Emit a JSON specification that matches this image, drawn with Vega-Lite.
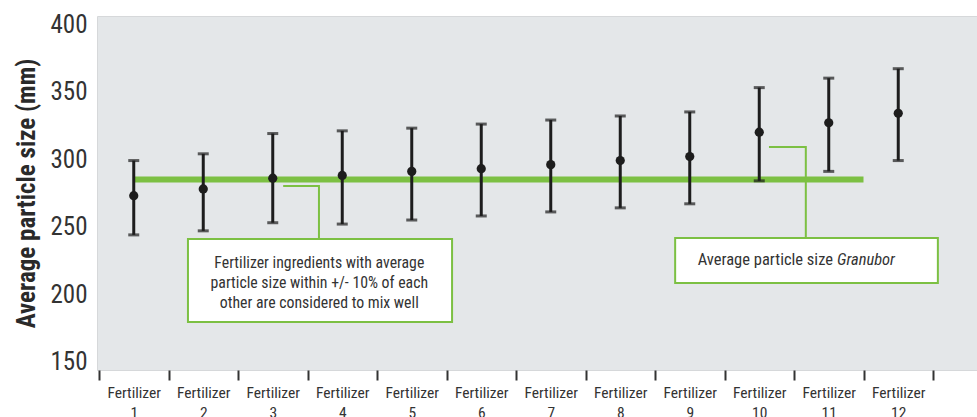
{
  "$schema": "https://vega.github.io/schema/vega-lite/v6.json",
  "width": 880,
  "height": 354,
  "autosize": {"type": "none"},
  "padding": {"left": 97, "top": 16, "right": 0, "bottom": 47},
  "background": "white",
  "config": {
    "view": {"fill": "#e4e7e9", "stroke": "#d6d8da", "strokeWidth": 1},
    "font": "Roboto Condensed, DejaVu Sans Condensed, Roboto, sans-serif"
  },
  "layer": [
    {
      "layer": [
        {
          "data": {"values": [{"from": 0.5, "to": 11, "size": 285}]},
          "mark": {"type": "rule", "color": "#7cc043", "strokeWidth": 6},
          "encoding": {
            "x": {"field": "from", "type": "quantitative", "scale": {"domain": [0, 12], "range": [2, 836]}, "axis": null},
            "x2": {"field": "to"},
            "y": {"field": "size", "type": "quantitative", "scale": {"domain": [144, 406], "nice": false, "zero": false}}
          }
        },
        {
          "data": {"values": [
            {"id": 1, "step": 1, "x": 2.65, "y": 280.2},
            {"id": 1, "step": 2, "x": 3.165, "y": 280.2},
            {"id": 1, "step": 3, "x": 3.165, "y": 241},
            {"id": 2, "step": 1, "x": 9.64, "y": 309},
            {"id": 2, "step": 2, "x": 10.17, "y": 309},
            {"id": 2, "step": 3, "x": 10.17, "y": 241.7}
          ]},
          "mark": {"type": "line", "color": "#7cc043", "strokeWidth": 2},
          "encoding": {
            "x": {"field": "x", "type": "quantitative", "scale": {"domain": [0, 12], "range": [2, 836]}, "axis": null},
            "y": {"field": "y", "type": "quantitative", "scale": {"domain": [144, 406], "nice": false, "zero": false}},
            "detail": {"field": "id"},
            "order": {"field": "step"}
          }
        },
        {
          "data": {"values": [
            {"x1": 1.28, "x2": 5.08, "y1": 179.6, "y2": 241},
            {"x1": 8.29, "x2": 12.07, "y1": 208.4, "y2": 241.7}
          ]},
          "mark": {"type": "rect", "fill": "white", "stroke": "#7cc043", "strokeWidth": 2},
          "encoding": {
            "x": {"field": "x1", "type": "quantitative", "scale": {"domain": [0, 12], "range": [2, 836]}, "axis": null},
            "x2": {"field": "x2"},
            "y": {"field": "y1", "type": "quantitative", "scale": {"domain": [144, 406], "nice": false, "zero": false}},
            "y2": {"field": "y2"}
          }
        },
        {
          "data": {"values": [
            {"x": 3.17, "y": 223.4, "text": ["Fertilizer ingredients with average", "particle size within +/- 10% of each", "other are considered to mix well"]}
          ]},
          "mark": {"type": "text", "align": "center", "baseline": "middle", "fontSize": 15.8, "lineHeight": 20.3, "color": "#333333"},
          "encoding": {
            "x": {"field": "x", "type": "quantitative", "scale": {"domain": [0, 12], "range": [2, 836]}, "axis": null},
            "y": {"field": "y", "type": "quantitative", "scale": {"domain": [144, 406], "nice": false, "zero": false}},
            "text": {"field": "text"}
          }
        },
        {
          "data": {"values": [{"x": 10.59, "y": 225.4, "text": "Average particle size"}]},
          "mark": {"type": "text", "align": "right", "baseline": "middle", "dx": -2, "fontSize": 16.5, "color": "#333333"},
          "encoding": {
            "x": {"field": "x", "type": "quantitative", "scale": {"domain": [0, 12], "range": [2, 836]}, "axis": null},
            "y": {"field": "y", "type": "quantitative", "scale": {"domain": [144, 406], "nice": false, "zero": false}},
            "text": {"field": "text"}
          }
        },
        {
          "data": {"values": [{"x": 10.59, "y": 225.4, "text": "Granubor"}]},
          "mark": {"type": "text", "align": "left", "baseline": "middle", "dx": 2, "fontSize": 16.5, "fontStyle": "italic", "color": "#333333"},
          "encoding": {
            "x": {"field": "x", "type": "quantitative", "scale": {"domain": [0, 12], "range": [2, 836]}, "axis": null},
            "y": {"field": "y", "type": "quantitative", "scale": {"domain": [144, 406], "nice": false, "zero": false}},
            "text": {"field": "text"}
          }
        }
      ]
    },
    {
      "data": {"values": [
        {"fertilizer": "Fertilizer 1", "size": 273, "low": 244, "high": 299},
        {"fertilizer": "Fertilizer 2", "size": 278, "low": 247, "high": 304},
        {"fertilizer": "Fertilizer 3", "size": 286, "low": 253, "high": 319},
        {"fertilizer": "Fertilizer 4", "size": 288, "low": 252, "high": 321},
        {"fertilizer": "Fertilizer 5", "size": 291, "low": 255, "high": 323},
        {"fertilizer": "Fertilizer 6", "size": 293, "low": 258, "high": 326},
        {"fertilizer": "Fertilizer 7", "size": 296, "low": 261, "high": 329},
        {"fertilizer": "Fertilizer 8", "size": 299, "low": 264, "high": 332},
        {"fertilizer": "Fertilizer 9", "size": 302, "low": 267, "high": 335},
        {"fertilizer": "Fertilizer 10", "size": 320, "low": 284, "high": 353},
        {"fertilizer": "Fertilizer 11", "size": 327, "low": 291, "high": 360},
        {"fertilizer": "Fertilizer 12", "size": 334, "low": 299, "high": 367}
      ]},
      "encoding": {
        "x": {
          "field": "fertilizer", "type": "nominal", "sort": null,
          "scale": {"type": "band", "paddingInner": 0, "paddingOuter": 0, "range": [2, 836]},
          "axis": {
            "title": null, "domain": false, "grid": false, "tickBand": "extent",
            "labelAngle": 0, "labelExpr": "split(datum.label, ' ')",
            "tickSize": 10, "tickWidth": 2, "tickColor": "#333333",
            "labelFontSize": 15.5, "labelColor": "#333333", "labelLineHeight": 20, "labelPadding": 5
          }
        }
      },
      "layer": [
        {
          "mark": {"type": "rule", "color": "#1d1d1d", "strokeWidth": 3},
          "encoding": {
            "y": {
              "field": "low", "type": "quantitative",
              "scale": {"domain": [144, 406], "nice": false, "zero": false},
              "axis": {
                "values": [150, 200, 250, 300, 350, 400], "ticks": false, "domain": false, "grid": false,
                "labelFontSize": 25, "labelColor": "#333333", "labelPadding": 10,
                "title": "Average particle size (mm)", "titleFontSize": 25, "titleFontWeight": "bold",
                "titleColor": "#2a2a2a", "titlePadding": 10
              }
            },
            "y2": {"field": "high"}
          }
        },
        {
          "mark": {"type": "tick", "color": "#1d1d1d", "size": 11, "thickness": 3},
          "encoding": {"y": {"field": "low", "type": "quantitative"}}
        },
        {
          "mark": {"type": "tick", "color": "#1d1d1d", "size": 11, "thickness": 3},
          "encoding": {"y": {"field": "high", "type": "quantitative"}}
        },
        {
          "mark": {"type": "point", "filled": true, "color": "#1d1d1d", "size": 85, "opacity": 1},
          "encoding": {"y": {"field": "size", "type": "quantitative"}}
        }
      ]
    }
  ],
  "resolve": {"scale": {"x": "independent"}}
}
